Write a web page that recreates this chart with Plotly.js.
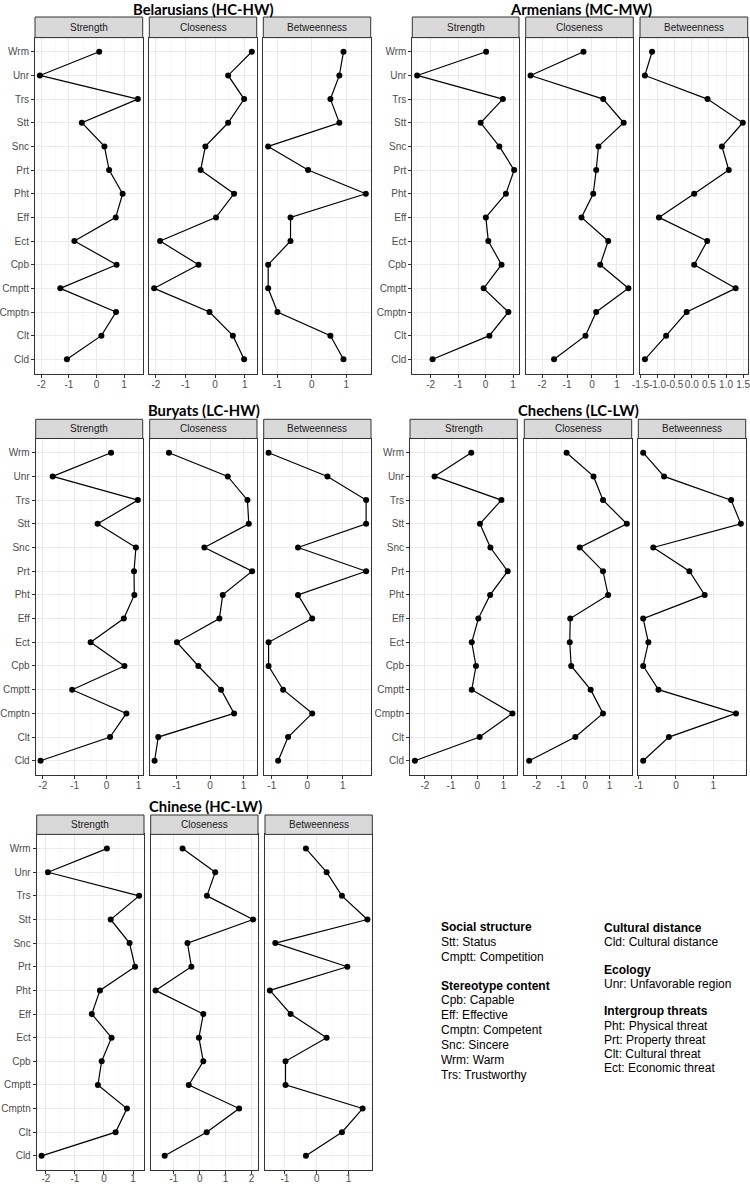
<!DOCTYPE html>
<html>
<head>
<meta charset="utf-8">
<script src="https://cdn.plot.ly/plotly-3.0.1.min.js"></script>
<style>html,body{margin:0;padding:0;background:#fff;}#chart{width:750px;height:1184px;}</style>
</head>
<body>
<div id="chart"></div>
<script>
// ---------- DATA ----------
const categories = ['Wrm','Unr','Trs','Stt','Snc','Prt','Pht','Eff','Ect','Cpb','Cmptt','Cmptn','Clt','Cld'];
const facetNames = ['Strength','Closeness','Betweenness'];
const groupTitles = ['Belarusians (HC-HW)','Armenians (MC-MW)','Buryats (LC-HW)','Chechens (LC-LW)','Chinese (HC-LW)'];

const belStrength    = [0.10, -2.05, 1.50, -0.53, 0.29, 0.46, 0.95, 0.70, -0.80, 0.73, -1.31, 0.71, 0.18, -1.07];
const belCloseness   = [1.24, 0.44, 0.98, 0.44, -0.33, -0.49, 0.64, 0.03, -1.86, -0.56, -2.06, -0.19, 0.60, 0.98];
const belBetweenness = [0.92, 0.80, 0.54, 0.80, -1.27, -0.11, 1.57, -0.62, -0.62, -1.27, -1.27, -1.00, 0.54, 0.92];

const armStrength    = [0.02, -2.49, 0.63, -0.18, 0.50, 1.04, 0.74, 0.01, 0.10, 0.58, -0.07, 0.83, 0.14, -1.93];
const armCloseness   = [-0.34, -2.46, 0.45, 1.27, 0.26, 0.17, 0.05, -0.42, 0.65, 0.33, 1.46, 0.17, -0.26, -1.52];
const armBetweenness = [-1.16, -1.37, 0.46, 1.49, 0.88, 1.08, 0.07, -0.96, 0.45, 0.07, 1.28, -0.15, -0.75, -1.37];

const burStrength    = [0.14, -1.69, 0.98, -0.28, 0.92, 0.86, 0.87, 0.54, -0.50, 0.56, -1.08, 0.62, 0.11, -2.07];
const burCloseness   = [-1.23, 0.53, 1.12, 1.16, -0.17, 1.26, 0.38, 0.28, -0.99, -0.35, 0.33, 0.72, -1.55, -1.66];
const burBetweenness = [-1.09, 0.57, 1.66, 1.66, -0.26, 1.66, -0.26, 0.14, -1.09, -1.09, -0.68, 0.14, -0.54, -0.82];

const cheStrength    = [-0.23, -1.63, 0.92, 0.10, 0.50, 1.16, 0.49, 0.04, -0.21, -0.05, -0.21, 1.34, 0.09, -2.38];
const cheCloseness   = [-0.77, 0.34, 0.73, 1.71, -0.23, 0.73, 0.94, -0.62, -0.64, -0.58, 0.22, 0.73, -0.41, -2.31];
const cheBetweenness = [-0.88, -0.32, 1.48, 1.74, -0.61, 0.36, 0.77, -0.88, -0.74, -0.88, -0.47, 1.61, -0.19, -0.88];

const chiStrength    = [0.10, -1.93, 1.21, 0.23, 0.88, 1.07, -0.14, -0.42, 0.26, -0.08, -0.21, 0.79, 0.40, -2.15];
const chiCloseness   = [-0.66, 0.60, 0.28, 2.06, -0.47, -0.32, -1.70, 0.14, -0.03, 0.14, -0.42, 1.52, 0.27, -1.35];
const chiBetweenness = [-0.34, 0.31, 0.79, 1.59, -1.30, 0.96, -1.47, -0.82, 0.31, -0.98, -0.98, 1.44, 0.79, -0.34];

const legendLeft  = ['<b>Social structure</b>','Stt: Status','Cmptt: Competition','','<b>Stereotype content</b>','Cpb: Capable','Eff: Effective','Cmptn: Competent','Snc: Sincere','Wrm: Warm','Trs: Trustworthy'];
const legendRight = ['<b>Cultural distance</b>','Cld: Cultural distance','','<b>Ecology</b>','Unr: Unfavorable region','','<b>Intergroup threats</b>','Pht: Physical threat','Prt: Property threat','Clt: Cultural threat','Ect: Economic threat'];

const groupSeries = [
  [belStrength, belCloseness, belBetweenness],
  [armStrength, armCloseness, armBetweenness],
  [burStrength, burCloseness, burBetweenness],
  [cheStrength, cheCloseness, cheBetweenness],
  [chiStrength, chiCloseness, chiBetweenness]
];

// ---------- LAYOUT (pixel geometry) ----------
const W = 750, H = 1184;
const geo = [
  {tx:203, ty:8.5, fx:[[35,142.7],[149.3,256.7],[263.3,370.7]], sy:[17,37.6], py:[37.6,373.5], std:-2},
  {tx:581, ty:8.5, fx:[[412.3,519],[525.7,633.3],[640,747.7]], sy:[17,37.6], py:[37.6,373.5], std:-2},
  {tx:204, ty:410, fx:[[35.7,142.7],[149.7,257],[263.7,371]], sy:[419.3,438.5], py:[438.5,775], std:-2},
  {tx:578, ty:410, fx:[[410,517.3],[524.3,631.7],[638.3,745.7]], sy:[419.3,438.5], py:[438.5,775], std:-2},
  {tx:205, ty:806, fx:[[36.7,144],[150.7,258],[265,372.3]], sy:[815,834.4], py:[834.4,1170], std:-4}
];
const tickSteps = [[1,1,1],[1,1,0.5],[1,1,1],[1,1,1],[1,1,1]];

const FONT = 'Liberation Sans, Arial, sans-serif';
const TITLE_FONT = 'Lato, Liberation Sans, sans-serif';
const fx = v => v / W;
const fy = v => 1 - v / H;

const traces = [];
const layout = {
  width: W, height: H,
  margin: {l:0, r:0, t:0, b:0},
  paper_bgcolor: '#ffffff', plot_bgcolor: '#ffffff',
  showlegend: false,
  annotations: [], shapes: []
};

let n = 0;
groupSeries.forEach((series, g) => {
  const G = geo[g];
  layout.annotations.push({
    xref:'paper', yref:'paper', x: fx(G.tx), y: fy(G.ty), xanchor:'center', yanchor:'middle',
    text:'<b>' + groupTitles[g] + '</b>', showarrow:false,
    font:{family:TITLE_FONT, size:14.8, color:'#000'}
  });
  series.forEach((vals, f) => {
    n += 1;
    const xa = 'xaxis' + (n === 1 ? '' : n), ya = 'yaxis' + (n === 1 ? '' : n);
    const xr = 'x' + (n === 1 ? '' : n), yr = 'y' + (n === 1 ? '' : n);
    const mn = Math.min(...vals), mx = Math.max(...vals), span = mx - mn;
    const lo = mn - 0.05 * span, hi = mx + 0.05 * span;
    const step = tickSteps[g][f];
    const dec = step < 1 ? 1 : 0;
    const tv = [], tt = [];
    for (let t = Math.ceil((lo - 1e-9) / step) * step; t <= hi + 1e-9; t += step) {
      const r = Math.round(t / step) * step;
      tv.push(r);
      tt.push(r.toFixed(dec));
    }
    traces.push({
      type:'scatter', mode:'lines+markers', x: vals, y: categories,
      xaxis: xr, yaxis: yr, cliponaxis:false,
      line:{color:'#000', width:1.2}, marker:{color:'#000', size:6},
      hoverinfo:'skip'
    });
    const [x0, x1] = G.fx[f];
    layout[xa] = {
      domain:[fx(x0), fx(x1)], anchor: yr, range:[lo, hi],
      tickmode:'array', tickvals: tv, ticktext: tt, tickangle: 0,
      ticks:'outside', ticklen:3, tickwidth:1, tickcolor:'#333333',
      ticklabelstandoff: G.std, ticklabeloverflow:'allow',
      tickfont:{family:FONT, size:10, color:'#4D4D4D'},
      showline:true, mirror:true, linecolor:'#333333', linewidth:1,
      showgrid:true, gridcolor:'#EBEBEB', gridwidth:1, zeroline:false,
      minor:{tickmode:'linear', tick0:0, dtick: step/2, showgrid:true, gridcolor:'#F4F4F4', gridwidth:0.6, ticks:''},
      fixedrange:true
    };
    layout[ya] = {
      domain:[fy(G.py[1]), fy(G.py[0])], anchor: xr,
      type:'category', categoryorder:'array', categoryarray: categories,
      range:[categories.length - 1 + 0.6, -0.6],
      showticklabels: f === 0, ticks: f === 0 ? 'outside' : '', ticklen:3, tickwidth:1, tickcolor:'#333333',
      tickfont:{family:FONT, size:10, color:'#4D4D4D'},
      showline:true, mirror:true, linecolor:'#333333', linewidth:1,
      showgrid:true, gridcolor:'#EBEBEB', gridwidth:1, zeroline:false,
      fixedrange:true
    };
    // strip
    layout.shapes.push({
      type:'rect', xref:'paper', yref:'paper',
      x0: fx(x0), x1: fx(x1), y0: fy(G.sy[1]), y1: fy(G.sy[0]),
      fillcolor:'#D9D9D9', line:{color:'#333333', width:1}, layer:'above'
    });
    layout.annotations.push({
      xref:'paper', yref:'paper', x: fx((x0 + x1) / 2), y: fy((G.sy[0] + G.sy[1]) / 2),
      xanchor:'center', yanchor:'middle', text: facetNames[f], showarrow:false,
      font:{family:FONT, size:10, color:'#1A1A1A'}
    });
  });
});

// legend text blocks
const legX = [439, 601.5];
const legY0 = [926.7, 927.7];
const legDY = [14.9, 14.2];
[legendLeft, legendRight].forEach((lines, c) => {
  let y = legY0[c];
  lines.forEach(line => {
    if (line === '') { y += legDY[c] * 0.95; return; }
    layout.annotations.push({
      xref:'paper', yref:'paper', x: fx(legX[c]), y: fy(y),
      xanchor:'left', yanchor:'middle', text: line, showarrow:false,
      font:{family:FONT, size:12, color:'#000'}
    });
    y += legDY[c];
  });
});

Plotly.newPlot('chart', traces, layout, {staticPlot:true, displayModeBar:false});
</script>
</body>
</html>
